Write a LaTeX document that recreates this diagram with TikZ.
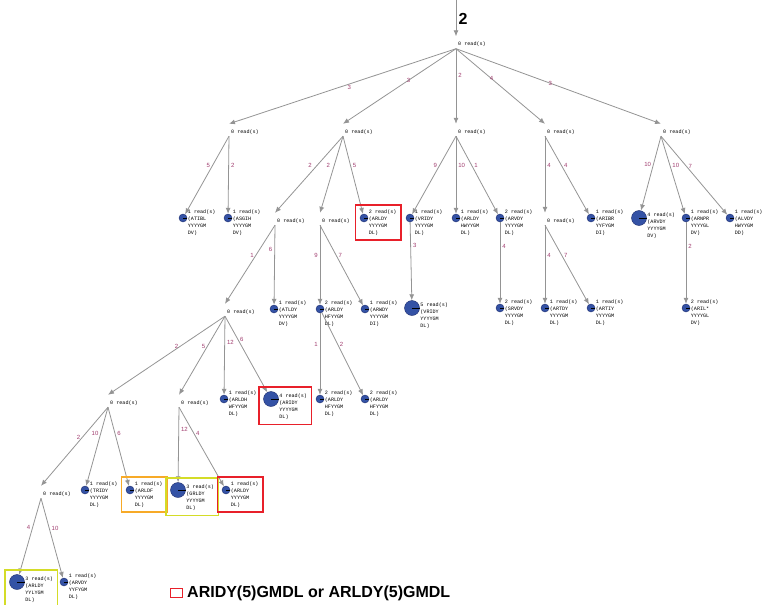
\documentclass[tikz,border=0pt]{standalone}
\usepackage{fontspec}
\setmainfont{Liberation Sans}
\setmonofont{Liberation Mono}
\usetikzlibrary{arrows.meta,fit}
\definecolor{hitblue}{RGB}{52,82,165}
\definecolor{hitedge}{RGB}{30,45,110}
\definecolor{wtred}{RGB}{160,60,110}
\definecolor{boxred}{RGB}{232,32,42}
\definecolor{boxorange}{RGB}{247,170,40}
\definecolor{boxyellow}{RGB}{212,220,40}
\tikzset{
  edge/.style={draw=black!42, line width=0.8pt, -{Latex[length=6pt,width=5pt]}},
  wt/.style={font=\fontsize{6}{6}\selectfont, text=wtred, inner sep=1pt, pos=0.38},
  zero/.style={font=\fontsize{5.1}{7}\ttfamily, anchor=base west, inner xsep=2pt, inner ysep=1pt, text height=8pt, text depth=2pt},
  hit/.style={circle, draw=hitedge, fill=hitblue, line width=0.4pt, inner sep=0pt, minimum size=8pt},
  bighit/.style={hit, minimum size=15pt},
  seqtxt/.style={font=\fontsize{5.1}{7}\ttfamily, align=left, anchor=north west, inner sep=0pt, xshift=0.5pt},
  hittxt/.style={seqtxt, yshift=8.5pt},
  bighittxt/.style={seqtxt, yshift=5pt},
  hl/.style={draw=#1, line width=1.6pt, inner sep=4.5pt},
}
\def\leaf[#1](#2)(#3)#4#5{%
  \node[#1] (#2) at (#3) {};
  \draw[line width=0.6pt] (#2.center) -- (#2.east);
  \node[#1txt] (#2-t) at (#2.east) {#4 read(s)\\#5};}

\begin{document}
\begin{tikzpicture}[x=1pt,y=-1pt]
  \useasboundingbox (0,0) rectangle (763,605);

  % root
  \coordinate (top) at (456,0);
  \node[font=\bfseries\fontsize{16}{16}\selectfont] (cnt) at (463,19) {2};
  \node[zero] (r) at (456,45.5) {0 read(s)};
  \draw[edge] (top) -- (r.north west);

  % inner nodes
  \node[zero] (A) at (229,133) {0 read(s)};
  \node[zero] (B) at (343,133) {0 read(s)};
  \node[zero] (C) at (456,133) {0 read(s)};
  \node[zero] (D) at (545,133) {0 read(s)};
  \node[zero] (E) at (661,133) {0 read(s)};
  \node[zero] (B1) at (275,222) {0 read(s)};
  \node[zero] (B2) at (320,222) {0 read(s)};
  \node[zero] (D1) at (545,222) {0 read(s)};
  \node[zero] (B1a) at (225,313) {0 read(s)};
  \node[zero] (B1a1) at (108,404) {0 read(s)};
  \node[zero] (B1a2) at (179,404) {0 read(s)};
  \node[zero] (B1a1a) at (41,495) {0 read(s)};

  % leaves
  \leaf[hit](atibl)(183,218){1}{(ATIBL\\YYYYGM\\DV)}
  \leaf[hit](asgih)(228,218){1}{(ASGIH\\YYYYGM\\DV)}
  \leaf[hit](arldyb)(364,218){2}{(ARLDY\\YYYYGM\\DL)}
  \leaf[hit](vridy)(410,218){1}{(VRIDY\\YYYYGM\\DL)}
  \leaf[hit](arldyhw)(456,218){1}{(ARLDY\\HWYYGM\\DL)}
  \leaf[hit](arvdy)(500,218){2}{(ARVDY\\YYYYGM\\DL)}
  \leaf[hit](aribr)(591,218){1}{(ARIBR\\YYFYGM\\DI)}
  \leaf[bighit](arvdye)(639,218){4}{(ARVDY\\YYYYGM\\DV)}
  \leaf[hit](arnpr)(686,218){1}{(ARNPR\\YYYYGL\\DV)}
  \leaf[hit](alvdy)(730,218){1}{(ALVDY\\HWYYGM\\DD)}
  \leaf[hit](atldy)(274,309){1}{(ATLDY\\YYYYGM\\DV)}
  \leaf[hit](arldyhf)(320,309){2}{(ARLDY\\HFYYGM\\DL)}
  \leaf[hit](arwdy)(365,309){1}{(ARWDY\\YYYYGM\\DI)}
  \leaf[bighit](vridyb)(412,308){5}{(VRIDY\\YYYYGM\\DL)}
  \leaf[hit](srvdy)(500,308){2}{(SRVDY\\YYYYGM\\DL)}
  \leaf[hit](artdy)(545,308){1}{(ARTDY\\YYYYGM\\DL)}
  \leaf[hit](artiy)(591,308){1}{(ARTIY\\YYYYGM\\DL)}
  \leaf[hit](aril)(686,308){2}{(ARIL*\\YYYYGL\\DV)}
  \leaf[hit](arldh)(224,399){1}{(ARLDH\\WFYYGM\\DL)}
  \leaf[bighit](aridy)(271,399){4}{(ARIDY\\YYYYGM\\DL)}
  \leaf[hit](hfa)(320,399){2}{(ARLDY\\HFYYGM\\DL)}
  \leaf[hit](hfb)(365,399){2}{(ARLDY\\HFYYGM\\DL)}
  \leaf[hit](tridy)(85,490){1}{(TRIDY\\YYYYGM\\DL)}
  \leaf[hit](arldf)(130,490){1}{(ARLDF\\YYYYGM\\DL)}
  \leaf[bighit](grldy)(178,490){3}{(GRLDY\\YYYYGM\\DL)}
  \leaf[hit](arldyc)(226,490){1}{(ARLDY\\YYYYGM\\DL)}
  \leaf[bighit](arldyd)(17,582){3}{(ARLDY\\YYLYGM\\DL)}
  \leaf[hit](arvdyf)(64,582){1}{(ARVDY\\YYFYGM\\DL)}

  % edges
  \draw[edge] (r.south west) -- node[wt, pos=0.47, below=0pt] {3} (A.north west);
  \draw[edge] (r.south west) -- node[wt, pos=0.42] {3} (B.north west);
  \draw[edge] (r.south west) -- node[wt, pos=0.36, right=1pt] {2} (C.north west);
  \draw[edge] (r.south west) -- node[wt, pos=0.4] {4} (D.north west);
  \draw[edge] (r.south west) -- node[wt, pos=0.46] {3} (E.north west);

  \draw[edge] (A.south west) -- node[wt, left=1pt] {5} (atibl);
  \draw[edge] (A.south west) -- node[wt, right=1pt] {2} (asgih);
  \draw[edge] (B.south west) -- node[wt, left=4pt] {2} (B1.north west);
  \draw[edge] (B.south west) -- node[wt, left=3pt] {2} (B2.north west);
  \draw[edge] (B.south west) -- node[wt, right=1pt] {5} (arldyb);
  \draw[edge] (C.south west) -- node[wt, left=1pt] {9} (vridy);
  \draw[edge] (C.south west) -- node[wt, right=1pt] {10} (arldyhw);
  \draw[edge] (C.south west) -- node[wt, right=1pt] {1} (arvdy);
  \draw[edge] (D.south west) -- node[wt, right=1pt] {4} (D1.north west);
  \draw[edge] (D.south west) -- node[wt, right=1pt] {4} (aribr);
  \draw[edge] (E.south west) -- node[wt, left=1pt] {10} (arvdye);
  \draw[edge] (E.south west) -- node[wt, right=1pt] {10} (arnpr);
  \draw[edge] (E.south west) -- node[wt, right=1pt] {7} (alvdy);

  \draw[edge] (B1.south west) -- node[wt, left=1pt] {1} (B1a.north west);
  \draw[edge] (B1.south west) -- node[wt, left=1pt, pos=0.3] {6} (atldy);
  \draw[edge] (B2.south west) -- node[wt, left=1pt] {9} (arldyhf);
  \draw[edge] (B2.south west) -- node[wt, right=1pt] {7} (arwdy);
  \draw[edge] (vridy) -- node[wt, right=1pt, pos=0.3] {3} (vridyb);
  \draw[edge] (arvdy) -- node[wt, right=1pt, pos=0.3] {4} (srvdy);
  \draw[edge] (D1.south west) -- node[wt, right=1pt] {4} (artdy);
  \draw[edge] (D1.south west) -- node[wt, right=1pt] {7} (artiy);
  \draw[edge] (arnpr) -- node[wt, right=1pt, pos=0.3] {2} (aril);

  \draw[edge] (B1a.south west) -- node[wt, left=1pt] {2} (B1a1.north west);
  \draw[edge] (B1a.south west) -- node[wt, left=1pt] {5} (B1a2.north west);
  \draw[edge] (B1a.south west) -- node[wt, right=1pt, pos=0.33] {12} (arldh);
  \draw[edge] (B1a.south west) -- node[wt, right=1pt, pos=0.3] {6} (aridy);
  \draw[edge] (arldyhf) -- node[wt, left=1pt] {1} (hfa);
  \draw[edge] (arldyhf) -- node[wt, right=1pt] {2} (hfb);

  \draw[edge] (B1a1.south west) -- node[wt, left=1pt] {2} (B1a1a.north west);
  \draw[edge] (B1a1.south west) -- node[wt, left=1pt, pos=0.33] {10} (tridy);
  \draw[edge] (B1a1.south west) -- node[wt, right=1pt, pos=0.33] {6} (arldf);
  \draw[edge] (B1a2.south west) -- node[wt, right=1pt, pos=0.3] {12} (grldy);
  \draw[edge] (B1a2.south west) -- node[wt, right=1pt, pos=0.33] {4} (arldyc);

  \draw[edge] (B1a1a.south west) -- node[wt, left=1pt] {4} (arldyd);
  \draw[edge] (B1a1a.south west) -- node[wt, right=1pt] {10} (arvdyf);

  % highlight boxes
  \node[hl=boxred, fit=(arldyb) (arldyb-t)] (box1) {};
  \node[hl=boxred, fit=(aridy) (aridy-t)] (box2) {};
  \node[hl=boxorange, fit=(arldf) (arldf-t)] (box3) {};
  \node[hl=boxyellow, fit=(grldy) (grldy-t)] (box4) {};
  \node[hl=boxred, fit=(arldyc) (arldyc-t)] (box5) {};
  \node[hl=boxyellow, fit=(arldyd) (arldyd-t)] (box6) {};

  % key
  \node[draw=boxred, line width=1.6pt, minimum width=12pt, minimum height=9pt, inner sep=0pt] (key) at (176.5,593) {};
  \node[font=\bfseries\fontsize{16}{16}\selectfont, anchor=west, inner sep=0pt] (key-t) at (187,593) {ARIDY(5)GMDL or ARLDY(5)GMDL};
\end{tikzpicture}
\end{document}
